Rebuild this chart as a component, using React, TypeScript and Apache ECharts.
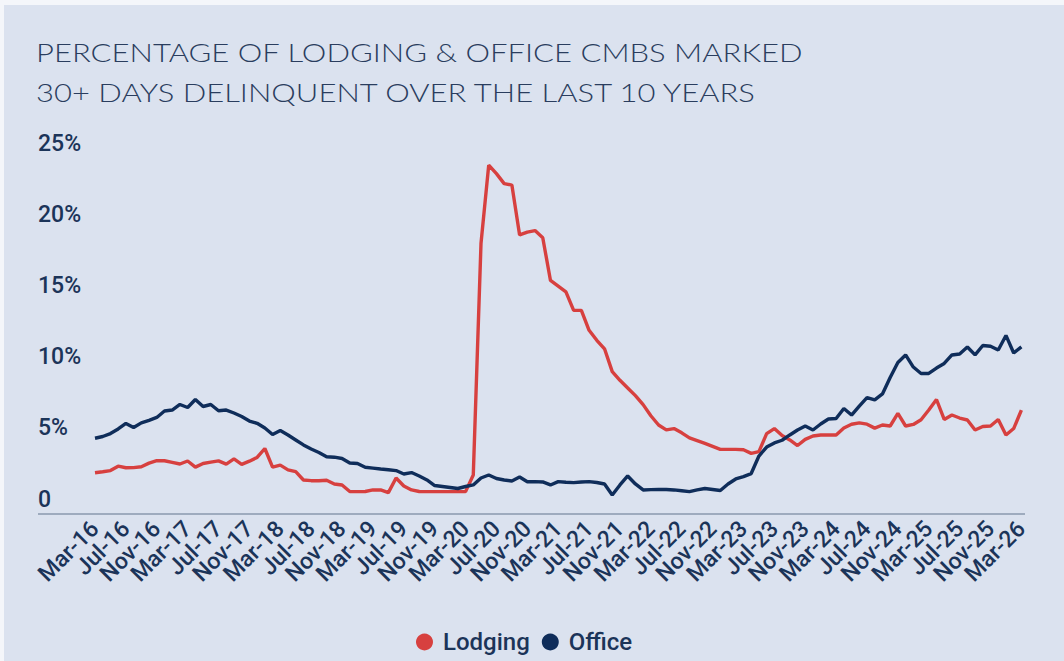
import React, { useEffect, useRef } from "react";
import * as echarts from "echarts";

const MONTH_NAMES = ["Jan", "Feb", "Mar", "Apr", "May", "Jun", "Jul", "Aug", "Sep", "Oct", "Nov", "Dec"];
// Monthly categories Mar-16 .. Mar-26
const categories: string[] = [];
for (let i = 0; i < 121; i++) {
  const m = 2 + i;
  categories.push(`${MONTH_NAMES[m % 12]}-${16 + Math.floor(m / 12)}`);
}
const LABEL_EVERY = 4;

const lodging = [
  2.90, 2.97, 3.05, 3.36, 3.25, 3.26, 3.32, 3.57, 3.74, 3.74,
  3.63, 3.51, 3.72, 3.29, 3.55, 3.64, 3.73, 3.50, 3.87, 3.49,
  3.71, 3.97, 4.60, 3.29, 3.43, 3.10, 2.97, 2.39, 2.34, 2.34,
  2.37, 2.11, 2.04, 1.58, 1.57, 1.58, 1.69, 1.69, 1.50, 2.53,
  1.97, 1.69, 1.58, 1.57, 1.57, 1.57, 1.57, 1.57, 1.57, 2.74,
  19.0, 24.5, 23.9, 23.2, 23.1, 19.6, 19.8, 19.9, 19.4, 16.4,
  16.0, 15.6, 14.3, 14.3, 12.9, 12.2, 11.6, 10.0, 9.39, 8.85,
  8.31, 7.68, 6.90, 6.25, 5.91, 6.00, 5.70, 5.34, 5.15, 4.96,
  4.75, 4.54, 4.54, 4.54, 4.51, 4.26, 4.38, 5.64, 6.00, 5.51,
  5.20, 4.81, 5.24, 5.48, 5.55, 5.55, 5.55, 6.04, 6.30, 6.40,
  6.31, 6.03, 6.25, 6.18, 7.07, 6.18, 6.29, 6.62, 7.30, 8.04,
  6.64, 6.95, 6.74, 6.60, 5.90, 6.14, 6.18, 6.64, 5.55, 6.00,
  7.30,
];

const office = [
  5.32, 5.44, 5.65, 5.97, 6.36, 6.07, 6.40, 6.58, 6.78, 7.23,
  7.30, 7.69, 7.48, 8.04, 7.55, 7.69, 7.25, 7.30, 7.09, 6.85,
  6.53, 6.37, 6.04, 5.58, 5.86, 5.55, 5.20, 4.85, 4.56, 4.32,
  4.02, 3.99, 3.90, 3.58, 3.55, 3.28, 3.22, 3.16, 3.11, 3.05,
  2.81, 2.91, 2.67, 2.39, 2.00, 1.93, 1.86, 1.79, 1.93, 2.04,
  2.53, 2.74, 2.49, 2.39, 2.32, 2.60, 2.27, 2.27, 2.25, 2.04,
  2.27, 2.23, 2.20, 2.25, 2.27, 2.21, 2.11, 1.33, 2.04, 2.67,
  2.11, 1.69, 1.71, 1.73, 1.72, 1.69, 1.63, 1.57, 1.69, 1.79,
  1.72, 1.65, 2.11, 2.46, 2.63, 2.84, 4.07, 4.70, 4.99, 5.18,
  5.55, 5.90, 6.18, 5.90, 6.32, 6.67, 6.71, 7.41, 6.95, 7.58,
  8.18, 8.01, 8.43, 9.59, 10.64, 11.17, 10.32, 9.87, 9.87, 10.25,
  10.57, 11.17, 11.24, 11.73, 11.17, 11.83, 11.78, 11.52, 12.54, 11.31,
  11.73,
];

const Y_MIN = 0;
const Y_MAX = 25;
const Y_STEP = 5;

const TITLE = "PERCENTAGE OF LODGING & OFFICE CMBS MARKED\n30+ DAYS DELINQUENT OVER THE LAST 10 YEARS";

const NAVY = "#0f2d5a";
const RED = "#d7403f";
const TEXT = "#1b3459";
const BG = "#dbe2ef";

export default function App() {
  const ref = useRef<HTMLDivElement>(null);

  useEffect(() => {
    if (!ref.current) return;
    const chart = echarts.init(ref.current, undefined, { renderer: "svg" });
    chart.setOption({
      animation: false,
      backgroundColor: "transparent",
      legend: {
        data: ["Lodging", "Office"],
        left: 416,
        top: 630,
        padding: 0,
        icon: "circle",
        itemWidth: 17,
        itemHeight: 17,
        itemGap: 12,
        textStyle: {
          fontFamily: "Roboto",
          fontWeight: 500,
          fontSize: 24,
          color: TEXT,
          padding: [0, 0, 0, 5],
        },
      },
      grid: {
        left: 95,
        right: 42.6,
        top: 158,
        bottom: 147,
        containLabel: false,
      },
      xAxis: {
        type: "category",
        data: categories,
        boundaryGap: false,
        axisLine: { show: false },
        axisTick: { show: false },
        splitLine: { show: false },
        axisLabel: {
          interval: 0,
          rotate: 45,
          margin: 11,
          showMinLabel: true,
          showMaxLabel: true,
          hideOverlap: false,
          fontFamily: "Roboto",
          fontWeight: 500,
          fontSize: 23,
          color: TEXT,
          formatter: (v: string, idx: number) => (idx % LABEL_EVERY === 0 ? v : ""),
        },
      },
      yAxis: {
        type: "value",
        min: Y_MIN,
        max: Y_MAX,
        interval: Y_STEP,
        axisLine: { show: false },
        axisTick: { show: false },
        splitLine: { show: false },
        axisLabel: {
          align: "left",
          margin: 57,
          verticalAlign: "bottom",
          lineHeight: 30,
          fontFamily: "Roboto",
          fontWeight: 500,
          fontSize: 23,
          color: TEXT,
          formatter: (v: number) => (v === 0 ? "0" : `${v}%`),
        },
      },
      graphic: [
        { type: "rect", left: 0, top: 0, shape: { width: 1064, height: 5 }, style: { fill: "#f4f6fa" } },
        { type: "rect", left: 0, top: 0, shape: { width: 4, height: 661 }, style: { fill: "#f4f6fa" } },
        {
          type: "text",
          x: 36,
          y: 32,
          scaleX: 1.24,
          style: {
            text: TITLE,
            fontFamily: "Lato",
            fontWeight: 300,
            fontSize: 25,
            lineHeight: 40,
            fill: "#2a3d5e",
            verticalAlign: "top",
            align: "left",
          },
        },
        {
          type: "line",
          shape: { x1: 38, y1: 514, x2: 1025, y2: 514 },
          style: { stroke: "#8a98ae", lineWidth: 1.5 },
        },
      ],
      series: [
        {
          name: "Lodging",
          type: "line",
          data: lodging,
          showSymbol: false,
          symbol: "circle",
          lineStyle: { color: RED, width: 3.4 },
          itemStyle: { color: RED },
          z: 3,
        },
        {
          name: "Office",
          type: "line",
          data: office,
          showSymbol: false,
          symbol: "circle",
          lineStyle: { color: NAVY, width: 3.4 },
          itemStyle: { color: NAVY },
          z: 4,
        },
      ],
    });
    return () => chart.dispose();
  }, []);

  return (
    <div
      ref={ref}
      style={{ position: "fixed", left: 0, top: 0, width: 1064, height: 661, background: BG }}
    />
  );
}
